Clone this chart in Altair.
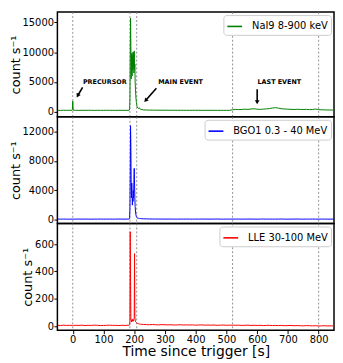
import altair as alt
import pandas as pd

# time grid (s since trigger)
TIME = ([-50, -40, -30, -20, -10, -2, -1, 0, 1, 2]
        + list(range(10, 190, 10))
        + list(range(183, 211))
        + [212, 214, 216, 218, 220, 225, 230]
        + list(range(240, 860, 10)))

NAI9 = ([260, 250, 270, 255, 265,
         270, 400, 1800, 600, 280,
         260, 250, 265, 255, 270, 260, 250, 265, 255, 260, 270, 255, 260, 250, 265, 260, 255, 270,
         270, 290, 500, 2000, 9000, 15700, 11000, 5500, 8000, 9800, 6000, 9500, 7000, 10000,
         7500, 9800, 6500, 10200, 7000, 8000, 5000, 3800, 2800, 2100, 1600, 1200, 950, 800,
         650, 560, 700, 520, 450, 380, 330,
         310, 300, 290, 285, 280, 275, 280, 270, 275, 270, 265, 270, 260, 265, 260, 270, 260,
         265, 255, 260, 265, 255, 260, 255, 260, 250, 255, 260,
         350, 420, 380, 400, 450, 420, 480, 520, 450, 420, 460, 500, 550, 650, 700, 620, 520,
         480, 450, 420, 400, 430, 410, 390, 420, 380, 400, 470, 380, 350, 330, 320, 310, 300])

BGO1 = ([110, 95, 105, 100, 90,
         105, 100, 110, 95, 100,
         100, 110, 95, 105, 100, 90, 105, 100, 110, 95, 100, 105, 95, 100, 110, 100, 95, 105,
         110, 130, 300, 1500, 6000, 12800, 10000, 5000, 3000, 5000, 3500, 2000, 3000, 2500,
         4000, 3000, 5500, 7000, 5000, 3000, 1800, 1200, 800, 600, 450, 350, 300, 260,
         230, 210, 200, 180, 170, 150, 140,
         130, 120, 115, 110, 105, 110, 100, 105, 110, 100, 95, 105, 100, 110, 100, 95, 105,
         100, 110, 105, 95, 100, 105, 110, 100, 95, 105, 100,
         110, 100, 105, 95, 100, 110, 105, 100, 95, 105, 110, 100, 105, 95, 100, 105, 110,
         100, 95, 100, 105, 110, 100, 95, 105, 100, 110, 95, 100, 105, 100, 95, 100, 105])

LLE = ([6, 4, 7, 5, 6,
        5, 6, 4, 7, 5,
        6, 5, 7, 4, 6, 5, 7, 6, 4, 5, 6, 7, 5, 6, 4, 6, 5, 7,
        6, 7, 10, 40, 690, 350, 60, 40, 30, 45, 35, 50, 40, 35,
        45, 40, 55, 60, 530, 70, 45, 35, 30, 27, 25, 23, 21, 20,
        18, 17, 16, 15, 14, 13, 12,
        11, 10, 12, 10, 9, 11, 10, 9, 10, 8, 9, 10, 8, 9, 8, 9, 7,
        8, 9, 7, 8, 7, 8, 6, 7, 8, 6, 7,
        7, 6, 7, 5, 6, 7, 5, 6, 5, 6, 4, 5, 6, 4, 5, 4, 5,
        3, 4, 5, 3, 4, 3, 2, 4, 3, 2, 3, 1, 2, 3, 1, 2, 1])

VLINES = [0, 186, 208, 520, 800]

ANN_TEXT = ["PRECURSOR", "MAIN EVENT", "LAST EVENT"]
ANN_X = [33, 278, 601]
ANN_Y = [4950, 4950, 4950]
ARR_X = [32, 272, 600]
ARR_Y = [4100, 3970, 3800]
ARR_X2 = [16, 237, 600]
ARR_Y2 = [2700, 1900, 1600]
ARR_ANGLE = [209, 220, 180]

FONT = "DejaVu Sans"
XDOM = [-50, 850]
W = 280


def xs():
    return alt.Scale(domain=XDOM, nice=False, zero=False)


def make_axes(yticks, bottom):
    if bottom:
        xaxis = alt.Axis(values=list(range(0, 900, 100)), format="d",
                         title="Time since trigger [s]", grid=False, domain=False,
                         tickColor="black", tickSize=3.5, labelFontSize=10,
                         labelPadding=0.5, titleFontSize=14, titlePadding=1,
                         labelColor="black", titleColor="black", titleFontWeight="normal")
    else:
        xaxis = None
    yaxis = alt.Axis(values=yticks, format="d", title="count s⁻¹", grid=False,
                     domain=False, tickColor="black", tickSize=3.5, labelFontSize=10,
                     labelPadding=0.5, titleFontSize=13, titlePadding=0,
                     labelColor="black", titleColor="black", titleFontWeight="normal")
    return xaxis, yaxis


def panel(vals, color, label, ydom, yticks, height, bottom=False, annotate=False):
    xaxis, yaxis = make_axes(yticks, bottom)
    ysc = alt.Scale(domain=ydom, nice=False, zero=False)
    df = pd.DataFrame({"t": TIME, "v": vals, "s": [label] * len(TIME)})

    rules = alt.Chart(pd.DataFrame({"t": VLINES})).mark_rule(
        color="#777777", strokeDash=[2, 2], strokeWidth=0.8
    ).encode(x=alt.X("t:Q", scale=xs(), axis=xaxis))

    line = alt.Chart(df).mark_line(strokeWidth=1, clip=True).encode(
        x=alt.X("t:Q", scale=xs(), axis=xaxis),
        y=alt.Y("v:Q", scale=ysc, axis=yaxis),
        color=alt.Color("s:N", scale=alt.Scale(domain=[label], range=[color]),
                        legend=alt.Legend(title=None, orient="top-right", offset=3,
                                          padding=3, fillColor="white",
                                          strokeColor="#cccccc", cornerRadius=3,
                                          labelFont=FONT, labelFontSize=10,
                                          labelColor="black", labelOffset=9,
                                          symbolType="stroke", symbolSize=225,
                                          symbolStrokeWidth=1.6)))
    layers = [rules, line]
    if annotate:
        ann = pd.DataFrame({"txt": ANN_TEXT, "x": ANN_X, "y": ANN_Y})
        arr = pd.DataFrame({"x": ARR_X, "y": ARR_Y, "x2": ARR_X2, "y2": ARR_Y2,
                            "ang": ARR_ANGLE})
        ann_text = alt.Chart(ann).mark_text(
            fontSize=6.5, fontWeight="bold", align="left", baseline="middle", color="black"
        ).encode(x=alt.X("x:Q", scale=xs(), axis=xaxis),
                 y=alt.Y("y:Q", scale=ysc, axis=yaxis), text="txt:N")
        arr_line = alt.Chart(arr).mark_rule(strokeWidth=1.6, color="black").encode(
            x=alt.X("x:Q", scale=xs(), axis=xaxis),
            y=alt.Y("y:Q", scale=ysc, axis=yaxis), x2="x2:Q", y2="y2:Q")
        arr_head = alt.Chart(arr).mark_point(
            shape="triangle-up", filled=True, size=22, color="black", opacity=1
        ).encode(x=alt.X("x2:Q", scale=xs(), axis=xaxis),
                 y=alt.Y("y2:Q", scale=ysc, axis=yaxis),
                 angle=alt.Angle("ang:Q", scale=None))
        layers += [arr_line, arr_head, ann_text]
    return alt.layer(*layers).properties(width=W, height=height)


top = panel(NAI9, "green", "NaI9 8-900 keV", [-830, 16700], [0, 5000, 10000, 15000], 106,
            annotate=True)
mid = panel(BGO1, "blue", "BGO1 0.3 - 40 MeV", [-500, 14000], [0, 4000, 8000, 12000], 108)
bot = panel(LLE, "red", "LLE 30-100 MeV", [-30, 750], [0, 200, 400, 600], 108, bottom=True)

chart = alt.vconcat(top, mid, bot, spacing=0, bounds="flush").resolve_scale(
    color="independent"
).properties(padding=0).configure(
    font=FONT
).configure_view(stroke="black", strokeWidth=1.5)

chart.save("out.html", embed_options={"renderer": "svg", "actions": False})
